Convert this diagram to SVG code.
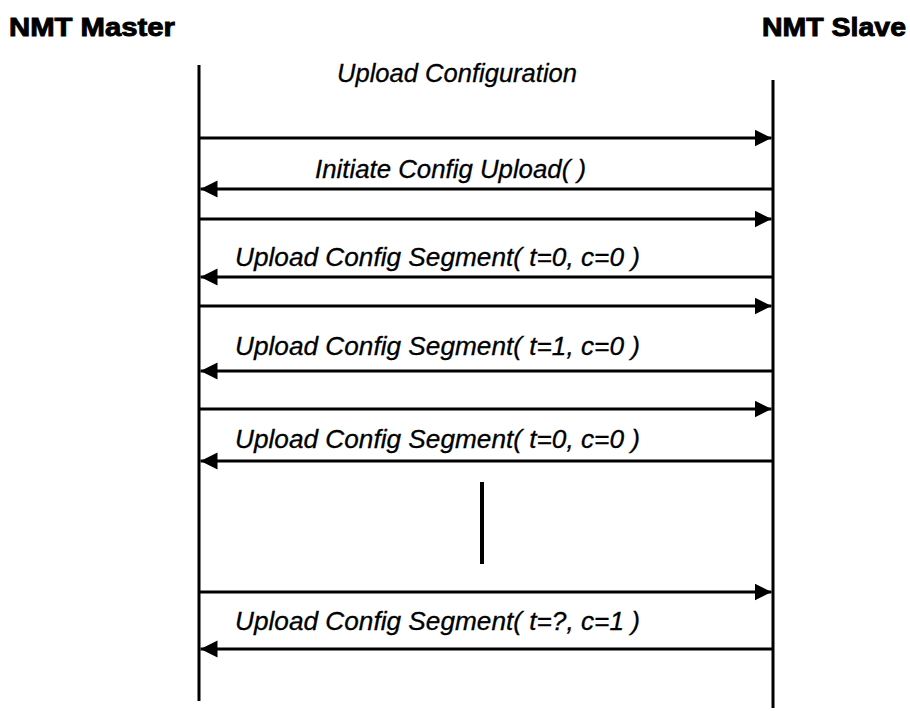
<svg xmlns="http://www.w3.org/2000/svg" width="910" height="711" viewBox="0 0 910 711">
  <style>
    .title { font-family: "Liberation Sans", Arial, sans-serif; font-weight: bold; font-size: 25px; fill: #000; stroke: #000; stroke-width: 0.9px; }
    .msg { font-family: "Liberation Sans", Arial, sans-serif; font-style: italic; font-size: 25px; fill: #000; stroke: #000; stroke-width: 0.3px; }
    .life { stroke: #000; stroke-width: 3; fill: none; }
    .arrow { stroke: #000; stroke-width: 3; fill: none; marker-end: url(#head); }
  </style>
  <defs>
    <marker id="head" markerUnits="userSpaceOnUse" markerWidth="18" markerHeight="18" refX="17" refY="8.5" orient="auto">
      <path d="M0,0 L17,8.5 L0,17 Z" fill="#000"/>
    </marker>
  </defs>
  <rect width="910" height="711" fill="#fff"/>

  <g id="nmt-master">
    <text class="title" x="9" y="36" textLength="166" lengthAdjust="spacingAndGlyphs">NMT Master</text>
    <line class="life" x1="199" y1="65" x2="199" y2="701"/>
  </g>
  <g id="nmt-slave">
    <text class="title" x="762" y="36" textLength="144" lengthAdjust="spacingAndGlyphs">NMT Slave</text>
    <line class="life" x1="773" y1="80" x2="773" y2="708"/>
  </g>
  <g id="continuation">
    <line x1="482" y1="482" x2="482" y2="564" stroke="#000" stroke-width="4"/>
  </g>

  <g id="connectors">
    <text class="msg" x="337" y="82" textLength="240" lengthAdjust="spacingAndGlyphs">Upload Configuration</text>
    <line class="arrow" x1="199" y1="138" x2="771.5" y2="138"/>
    <text class="msg" x="315" y="178" textLength="271" lengthAdjust="spacingAndGlyphs">Initiate Config Upload( )</text>
    <line class="arrow" x1="773" y1="189" x2="200.5" y2="189"/>
    <line class="arrow" x1="199" y1="219" x2="771.5" y2="219"/>
    <text class="msg" x="235" y="266" textLength="405" lengthAdjust="spacingAndGlyphs">Upload Config Segment( t=0, c=0 )</text>
    <line class="arrow" x1="773" y1="277" x2="200.5" y2="277"/>
    <line class="arrow" x1="199" y1="306" x2="771.5" y2="306"/>
    <text class="msg" x="235" y="355" textLength="405" lengthAdjust="spacingAndGlyphs">Upload Config Segment( t=1, c=0 )</text>
    <line class="arrow" x1="773" y1="371" x2="200.5" y2="371"/>
    <line class="arrow" x1="199" y1="409" x2="771.5" y2="409"/>
    <text class="msg" x="235" y="448" textLength="405" lengthAdjust="spacingAndGlyphs">Upload Config Segment( t=0, c=0 )</text>
    <line class="arrow" x1="773" y1="461" x2="200.5" y2="461"/>
    <line class="arrow" x1="199" y1="592" x2="771.5" y2="592"/>
    <text class="msg" x="235" y="630" textLength="405" lengthAdjust="spacingAndGlyphs">Upload Config Segment( t=?, c=1 )</text>
    <line class="arrow" x1="773" y1="649" x2="200.5" y2="649"/>
  </g>
</svg>
